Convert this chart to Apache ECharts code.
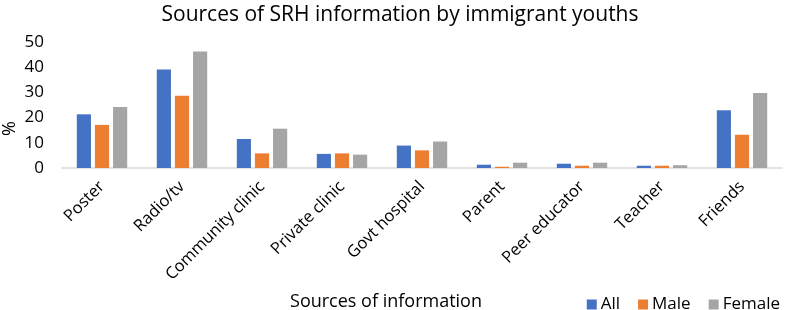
<!DOCTYPE html>
<html><head><meta charset="utf-8">
<script src="https://cdn.jsdelivr.net/npm/echarts@6/dist/echarts.min.js"></script>
<style>html,body{margin:0;padding:0;background:#fff}#c{width:800px;height:310px}</style>
</head><body><div id="c"></div>
<script>
const categories = ['Poster','Radio/tv','Community clinic','Private clinic','Govt hospital','Parent','Peer educator','Teacher','Friends'];
const allValues = [21.3, 39.1, 11.5, 5.6, 8.9, 1.3, 1.7, 0.9, 22.9];
const maleValues = [17.1, 28.7, 5.8, 5.8, 7.0, 0.5, 0.9, 0.9, 13.2];
const femaleValues = [24.2, 46.2, 15.6, 5.3, 10.5, 2.1, 2.1, 1.1, 29.8];
const yTicks = [0, 10, 20, 30, 40, 50];

const FONT = '"Open Sans", "Liberation Sans", sans-serif';
const chart = echarts.init(document.getElementById('c'));
chart.setOption({
  animation: false,
  textStyle: { fontFamily: FONT },
  title: {
    text: 'Sources of SRH information by immigrant youths',
    left: 'center', top: 0,
    textStyle: { fontFamily: FONT, fontSize: 21, fontWeight: 'normal', color: '#000' }
  },
  legend: {
    data: ['All','Male','Female'],
    right: 15, top: 291,
    itemWidth: 10, itemHeight: 10, itemGap: 18,
    icon: 'rect',
    textStyle: { fontFamily: FONT, fontSize: 17, color: '#000', padding: [0,0,0,-1] }
  },
  grid: { left: 62, right: 18, top: 42, bottom: 142, containLabel: false, outerBoundsMode: 'none' },
  xAxis: {
    type: 'category',
    data: categories,
    name: 'Sources of information',
    nameLocation: 'middle',
    nameGap: 125,
    nameTextStyle: { fontFamily: FONT, fontSize: 18, color: '#000', padding: [0,72,0,0] },
    axisLine: { lineStyle: { color: '#D9D9D9', width: 1.5 } },
    axisTick: { show: false },
    axisLabel: { rotate: 45, margin: 16, fontFamily: FONT, fontSize: 16.5, color: '#000' }
  },
  yAxis: {
    type: 'value',
    min: yTicks[0], max: yTicks[yTicks.length-1], interval: 10,
    splitLine: { show: false },
    axisLine: { show: false },
    axisTick: { show: false },
    axisLabel: { fontFamily: FONT, fontSize: 17, color: '#000', margin: 18 }
  },
  graphic: [{
    type: 'text', left: 1, top: 121, rotation: Math.PI/2,
    style: { text: '%', font: '18px ' + FONT, fill: '#000' }
  }],
  series: [
    { name: 'All', type: 'bar', data: allValues, itemStyle: { color: '#4472C4' }, barGap: '28%', barCategoryGap: '37%' },
    { name: 'Male', type: 'bar', data: maleValues, itemStyle: { color: '#ED7D31' } },
    { name: 'Female', type: 'bar', data: femaleValues, itemStyle: { color: '#A5A5A5' } }
  ]
});
</script></body></html>
